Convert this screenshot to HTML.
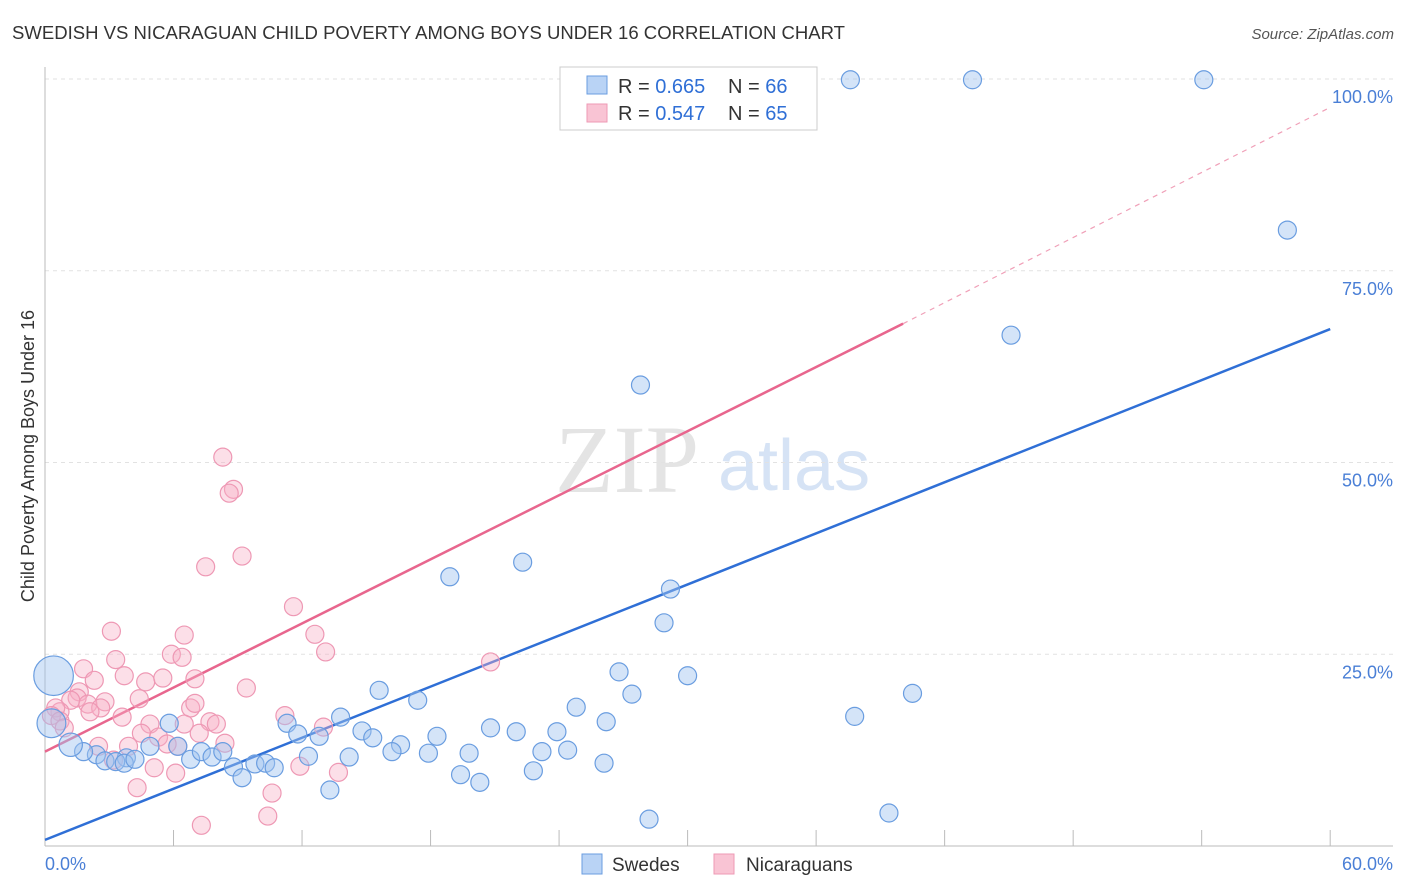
<!DOCTYPE html>
<html><head><meta charset="utf-8"><style>
body{margin:0;background:#fff;font-family:"Liberation Sans",sans-serif}
svg{display:block}
</style></head><body>
<svg id="chart" width="1406" height="892" viewBox="0 0 1406 892" xmlns="http://www.w3.org/2000/svg">
<text x="12" y="39" font-size="18" fill="#333" textLength="833" lengthAdjust="spacingAndGlyphs">SWEDISH VS NICARAGUAN CHILD POVERTY AMONG BOYS UNDER 16 CORRELATION CHART</text>
<text x="1394" y="39" font-size="15" fill="#555" font-style="italic" text-anchor="end">Source: ZipAtlas.com</text>
<text x="555" y="492" font-size="96" fill="#e4e4e4" font-family="Liberation Serif,serif">ZIP</text>
<text x="718" y="490" font-size="72" fill="#d6e3f5">atlas</text>
<text transform="translate(34,456) rotate(-90)" font-size="18" fill="#333" text-anchor="middle">Child Poverty Among Boys Under 16</text>
<g id="grid"></g><g id="axes"></g><g id="lines"></g><g id="pts"></g>
<g>
<rect x="560" y="67" width="257" height="63" fill="#fff" stroke="#ccc"/>
<rect x="587" y="76" width="20" height="18" fill="#b9d3f5" stroke="#6a9de0"/>
<rect x="587" y="104" width="20" height="18" fill="#f9c4d4" stroke="#ee9ab5"/>
<text x="618" y="93" font-size="20" fill="#333">R = <tspan fill="#2f6fd6">0.665</tspan><tspan x="728">N = </tspan><tspan fill="#2f6fd6">66</tspan></text>
<text x="618" y="120" font-size="20" fill="#333">R = <tspan fill="#2f6fd6">0.547</tspan><tspan x="728">N = </tspan><tspan fill="#2f6fd6">65</tspan></text>
</g>
<g>
<rect x="582" y="854" width="20" height="20" fill="#b9d3f5" stroke="#6a9de0"/>
<text x="612" y="871" font-size="19" fill="#333">Swedes</text>
<rect x="714" y="854" width="20" height="20" fill="#f9c4d4" stroke="#ee9ab5"/>
<text x="746" y="871" font-size="19" fill="#333">Nicaraguans</text>
</g>
</svg>
<script>
const xTickVals=[0,6,12,18,24,30,36,42,48,54,60];
const yTickVals=[25,50,75,100];
const blueX=[37.6,43.3,54.1,58.0,45.1,27.8,18.9,22.3,29.2,28.9,30.0,26.8,27.4,40.5,37.8,39.4,28.2,15.6,17.4,24.8,26.2,11.3,11.8,12.8,13.8,14.8,15.3,16.6,16.2,18.3,17.9,20.8,22.0,23.9,24.4,23.2,19.8,19.4,20.3,22.8,26.1,13.3,14.2,12.3,5.8,6.2,4.9,3.8,2.4,1.8,2.8,3.3,3.7,4.2,6.8,7.3,7.8,8.3,8.8,9.2,9.8,10.3,10.7,0.4,0.3,1.2];
const blueY=[99.9,99.9,99.9,80.3,66.6,60.1,35.1,37.0,33.5,29.1,22.2,22.7,19.8,19.9,16.9,4.3,3.5,20.3,19.0,18.1,16.2,16.0,14.6,14.3,16.8,15.0,14.1,13.2,12.3,14.3,12.1,15.4,14.9,14.9,12.5,12.3,12.1,9.3,8.3,9.8,10.8,7.3,11.6,11.7,16.0,13.0,13.0,11.5,11.9,12.3,11.1,11.0,10.8,11.3,11.3,12.3,11.6,12.3,10.3,8.9,10.7,10.8,10.2,22.2,16.0,13.2];
const blueSize=[1,1,1,1,1,1,1,1,1,1,1,1,1,1,1,1,1,1,1,1,1,1,1,1,1,1,1,1,1,1,1,1,1,1,1,1,1,1,1,1,1,1,1,1,1,1,1,1,1,1,1,1,1,1,1,1,1,1,1,1,1,1,1,2.2,1.6,1.3];
const pinkX=[8.3,8.8,8.6,9.2,7.5,11.6,3.1,6.5,12.6,13.1,5.9,6.4,3.3,1.8,20.8,2.3,3.7,4.7,5.5,7.0,9.4,1.6,1.5,2.8,4.4,1.2,2.0,2.6,6.8,7.0,0.7,0.5,0.3,2.1,3.6,4.9,6.5,7.7,8.0,11.2,13.0,0.7,0.9,4.5,5.3,6.2,7.2,8.4,2.5,3.9,5.7,3.2,5.1,6.1,13.7,4.3,10.6,10.4,7.3,11.9,32.9];
const pinkY=[50.7,46.5,46.0,37.8,36.4,31.2,28.0,27.5,27.6,25.3,25.0,24.6,24.3,23.1,24.0,21.6,22.2,21.4,21.9,21.8,20.6,20.1,19.3,18.8,19.2,19.0,18.5,18.0,18.0,18.6,17.5,18.0,17.0,17.5,16.8,15.9,15.9,16.2,15.9,17.0,15.5,16.3,15.4,14.7,14.2,13.0,14.7,13.4,13.0,13.0,13.3,11.2,10.2,9.5,9.6,7.6,6.9,3.9,2.7,10.4,99.9];
const blueTrend=[0.8,67.4];
const pinkTrend=[12.3,68.1,96.3];
const pinkSolidEnd=40.06;
const X=v=>45+v*21.42, Y=v=>846-v*7.67;
const NS="http://www.w3.org/2000/svg";
function mk(p,t,a){const e=document.createElementNS(NS,t);for(const k in a)e.setAttribute(k,a[k]);p.appendChild(e);return e;}
const grid=document.getElementById('grid'),axes=document.getElementById('axes'),lines=document.getElementById('lines'),pts=document.getElementById('pts');
yTickVals.forEach(v=>{
 const l=mk(grid,'line',{x1:45,x2:1393,y1:Y(v),y2:Y(v),stroke:'#e2e2e2','stroke-dasharray':'4 4'});
 
 
 const t=mk(axes,'text',{x:1393,y:Y(v)+24,'font-size':18,fill:'#4a7fd6','text-anchor':'end'});t.textContent=v.toFixed(1)+'%';
 
 
});
const ax=mk(axes,'line',{x1:45,x2:45,y1:67,y2:846,stroke:'#bbb'});


const bx=mk(axes,'line',{x1:45,x2:1393,y1:846,y2:846,stroke:'#bbb'});


xTickVals.forEach(v=>{if(v===0)return;const l=mk(axes,'line',{x1:X(v),x2:X(v),y1:830,y2:846,stroke:'#bbb'});
 
 });
[[0,'start',45],[60,'end',1393]].forEach(([v,a,x])=>{const t=mk(axes,'text',{x:x,y:870,'font-size':18,fill:'#4a7fd6','text-anchor':a});t.textContent=v.toFixed(1)+'%';
 
 });
function dot(x,y,s,fill,stroke,name){const c=mk(pts,'circle',{cx:X(x),cy:Y(y),r:9*s,fill:fill,stroke:stroke,'stroke-width':1.2});
 
 }
pinkX.forEach((x,i)=>dot(x,pinkY[i],1,'rgba(248,175,198,0.4)','#ee98b4','nicaraguan-point'));
blueX.forEach((x,i)=>dot(x,blueY[i],blueSize[i],'rgba(160,196,240,0.45)','#6a9de0','swedish-point'));
const bl=mk(lines,'line',{x1:X(0),y1:Y(blueTrend[0]),x2:X(60),y2:Y(blueTrend[1]),stroke:'#2f6fd6','stroke-width':2.5});


const pl=mk(lines,'line',{x1:X(0),y1:Y(pinkTrend[0]),x2:X(pinkSolidEnd),y2:Y(pinkTrend[1]),stroke:'#e8668e','stroke-width':2.5});


const pd=mk(lines,'line',{x1:X(pinkSolidEnd),y1:Y(pinkTrend[1]),x2:X(60),y2:Y(pinkTrend[2]),stroke:'#f0a0b8','stroke-width':1.2,'stroke-dasharray':'5 5'});


</script>
</body></html>
